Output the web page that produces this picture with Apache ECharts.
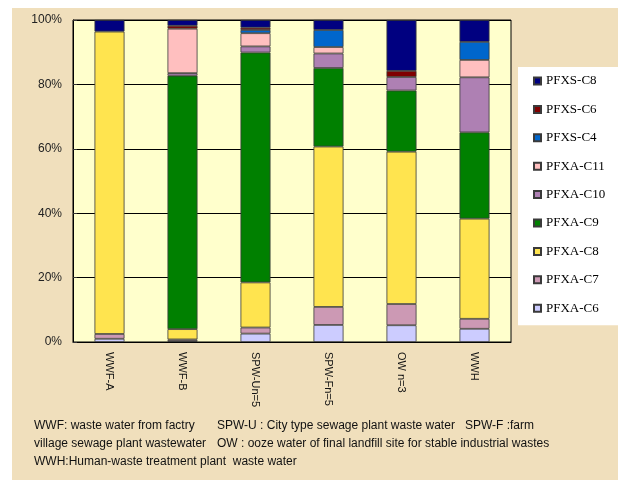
<!DOCTYPE html>
<html>
<head>
<meta charset="utf-8">
<script src="https://cdn.jsdelivr.net/npm/echarts@6/dist/echarts.min.js"></script>
<style>
  html, body { margin: 0; padding: 0; background: #fff; }
  #show { width: 631px; height: 480px; }
</style>
</head>
<body>
<div id="show"></div>
<script>
var myChart = echarts.init(document.getElementById("show"));

// samples along the x axis
var categories = ['WWF-A', 'WWF-B', 'SPW-Un=5', 'SPW-Fn=5', 'OW n=3', 'WWH'];

// share of each compound, % (bottom of the stack first)
var pfxaC6  = [1.0, 0.3, 2.6, 5.3, 5.2, 4.1];
var pfxaC7  = [1.5, 0.5, 1.9, 5.6, 6.6, 3.1];
var pfxaC8  = [93.9, 3.2, 14.0, 49.8, 47.3, 31.1];
var pfxaC9  = [0, 78.7, 71.4, 24.4, 19.0, 26.8];
var pfxaC10 = [0, 0.8, 1.9, 4.5, 4.2, 17.1];
var pfxaC11 = [0, 13.8, 4.1, 2.0, 0, 5.4];
var pfxsC4  = [0, 0, 1.0, 5.3, 0, 5.6];
var pfxsC6  = [0, 0.9, 0.7, 0, 1.9, 0];
var pfxsC8  = [3.6, 1.8, 2.4, 3.1, 15.8, 6.8];

var seriesNames = ['PFXA-C6', 'PFXA-C7', 'PFXA-C8', 'PFXA-C9', 'PFXA-C10', 'PFXA-C11', 'PFXS-C4', 'PFXS-C6', 'PFXS-C8'];
var seriesData = [pfxaC6, pfxaC7, pfxaC8, pfxaC9, pfxaC10, pfxaC11, pfxsC4, pfxsC6, pfxsC8];
var colors = ['#CCCCFF', '#CC99B4', '#FFE44F', '#008000', '#AE80B3', '#FFBFBF', '#0066CC', '#800000', '#000080'];

var series = seriesNames.map(function (name, i) {
    return {
        name: name,
        type: 'bar',
        stack: 'total',
        barWidth: 30,
        // zero shares drawn as nothing, otherwise the border leaves a line
        data: seriesData[i].map(function (v) { return v === 0 ? '-' : v; }),
        itemStyle: {
            color: colors[i],
            borderColor: '#3a3a3a',
            borderWidth: 0.8
        }
    };
});

var txt = { fontFamily: 'Liberation Sans, Arial', fontSize: 12, fill: '#111' };

myChart.setOption(option = {
    backgroundColor: '#fff',
    animation: false,
    graphic: [
        {
            type: 'rect', left: 12, top: 8, z: -10,
            shape: { width: 606, height: 472 },
            style: { fill: '#F0DFBC' }
        },
        { type: 'text', left: 34, top: 420, style: Object.assign({ text: 'WWF: waste water from factry' }, txt) },
        { type: 'text', left: 217, top: 420, style: Object.assign({ text: 'SPW-U : City type sewage plant waste water   SPW-F :farm' }, txt) },
        { type: 'text', left: 34, top: 438, style: Object.assign({ text: 'village sewage plant wastewater' }, txt) },
        { type: 'text', left: 217, top: 438, style: Object.assign({ text: 'OW : ooze water of final landfill site for stable industrial wastes' }, txt) },
        { type: 'text', left: 34, top: 456, style: Object.assign({ text: 'WWH:Human-waste treatment plant  waste water' }, txt) }
    ],
    legend: {
        orient: 'vertical',
        left: 518,
        top: 67,
        data: seriesNames.slice().reverse(),
        icon: 'rect',
        backgroundColor: '#fff',
        padding: [7, 14, 10, 15],
        itemWidth: 7,
        itemHeight: 7,
        itemGap: 14.4,
        textStyle: {
            fontFamily: 'Liberation Serif, Times New Roman',
            fontSize: 13,
            lineHeight: 14,
            color: '#000'
        }
    },
    grid: {
        left: 73,
        right: 120,
        top: 20,
        bottom: 138,
        show: true,
        backgroundColor: '#FFFFCC',
        borderColor: '#000',
        borderWidth: 1
    },
    xAxis: {
        type: 'category',
        data: categories,
        axisLine: { lineStyle: { color: '#000' } },
        axisTick: { inside: true, length: 4, lineStyle: { color: '#333' } },
        axisLabel: {
            rotate: -90,
            margin: 10,
            fontFamily: 'Liberation Sans, Arial',
            fontSize: 11,
            color: '#111'
        }
    },
    yAxis: {
        type: 'value',
        min: 0,
        max: 100,
        interval: 20,
        axisLine: { show: true, lineStyle: { color: '#000' } },
        axisTick: { show: true, inside: true, length: 4, lineStyle: { color: '#333' } },
        splitLine: { lineStyle: { color: '#000', width: 1 } },
        axisLabel: {
            formatter: '{value}%',
            margin: 11,
            fontFamily: 'Liberation Sans, Arial',
            fontSize: 12,
            color: '#222'
        }
    },
    series: series
});
</script>
</body>
</html>
